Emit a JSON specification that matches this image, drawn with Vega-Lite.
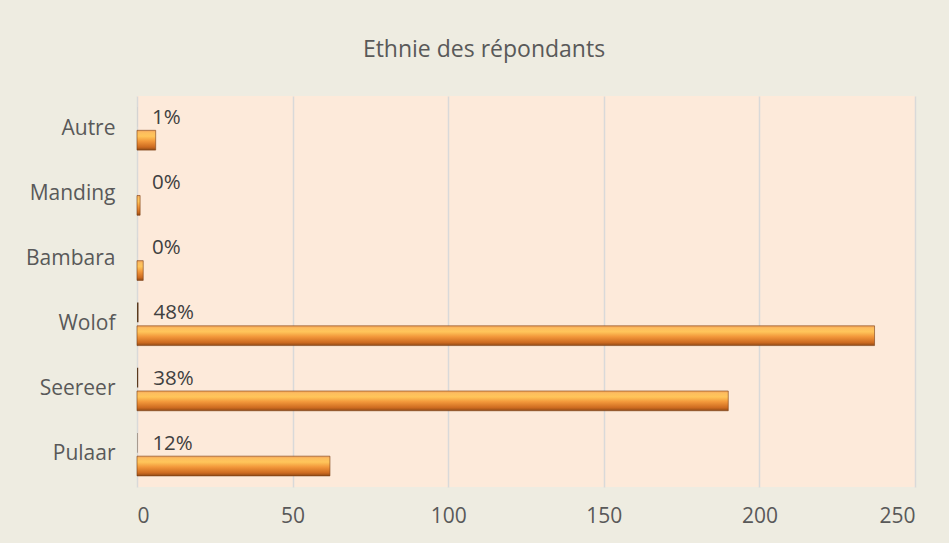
{
  "$schema": "https://vega.github.io/schema/vega-lite/v6.json",
  "width": 778,
  "height": 391,
  "autosize": {"type": "none"},
  "padding": {"left": 137, "top": 96, "right": 34, "bottom": 56},
  "background": "#EEECE1",
  "title": {
    "text": "Ethnie des répondants",
    "fontSize": 23,
    "font": "Open Sans",
    "fontWeight": "normal",
    "color": "#595959",
    "offset": 34,
    "dx": -42,
    "anchor": "middle",
    "frame": "group"
  },
  "config": {
    "view": {"fill": "#FDEADA", "stroke": null},
    "font": "Open Sans"
  },
  "data": {
    "values": [
      {"ethnie": "Autre", "serie": "pct", "valeur": 0.012},
      {"ethnie": "Autre", "serie": "nombre", "valeur": 6},
      {"ethnie": "Manding", "serie": "pct", "valeur": 0.002},
      {"ethnie": "Manding", "serie": "nombre", "valeur": 1},
      {"ethnie": "Bambara", "serie": "pct", "valeur": 0.004},
      {"ethnie": "Bambara", "serie": "nombre", "valeur": 2},
      {"ethnie": "Wolof", "serie": "pct", "valeur": 0.476},
      {"ethnie": "Wolof", "serie": "nombre", "valeur": 237},
      {"ethnie": "Seereer", "serie": "pct", "valeur": 0.382},
      {"ethnie": "Seereer", "serie": "nombre", "valeur": 190},
      {"ethnie": "Pulaar", "serie": "pct", "valeur": 0.124},
      {"ethnie": "Pulaar", "serie": "nombre", "valeur": 62}
    ]
  },
  "encoding": {
    "y": {
      "field": "ethnie",
      "type": "nominal",
      "sort": ["Autre", "Manding", "Bambara", "Wolof", "Seereer", "Pulaar"],
      "scale": {"paddingInner": 0.34, "paddingOuter": 0.17},
      "axis": {
        "title": null,
        "domain": false,
        "ticks": false,
        "labelPadding": 22,
        "labelFontSize": 21,
        "labelColor": "#595959",
        "labelFont": "Open Sans"
      }
    },
    "yOffset": {
      "field": "serie",
      "type": "nominal",
      "sort": ["pct", "nombre"],
      "scale": {"paddingInner": 0.15, "paddingOuter": 0}
    },
    "x": {
      "field": "valeur",
      "type": "quantitative",
      "scale": {"domain": [0, 250], "nice": false},
      "axis": {
        "title": null,
        "values": [0, 50, 100, 150, 200, 250],
        "domain": false,
        "ticks": false,
        "grid": true,
        "gridColor": "#D9D9D9",
        "gridWidth": 1.5,
        "labelPadding": 18,
        "labelFontSize": 21,
        "labelColor": "#595959",
        "labelFont": "Open Sans"
      }
    }
  },
  "layer": [
    {
      "transform": [{"filter": "datum.serie == 'nombre'"}],
      "mark": {
        "type": "bar",
        "color": {
          "gradient": "linear",
          "x1": 0, "y1": 0, "x2": 0, "y2": 1,
          "stops": [
            {"offset": 0, "color": "#F3A35A"},
            {"offset": 0.12, "color": "#FDBE5E"},
            {"offset": 0.3, "color": "#FFC55A"},
            {"offset": 0.55, "color": "#F2973A"},
            {"offset": 0.85, "color": "#CC6A20"},
            {"offset": 1, "color": "#8F4A16"}
          ]
        },
        "stroke": "#7A3E12",
        "strokeWidth": 0.6
      }
    },
    {
      "transform": [{"filter": "datum.serie == 'pct'"}],
      "mark": {"type": "bar", "color": "#5A3A1E"}
    },
    {
      "transform": [{"filter": "datum.serie == 'pct'"}],
      "mark": {
        "type": "text",
        "align": "left",
        "baseline": "middle",
        "dx": 15,
        "dy": 1,
        "fontSize": 20.5,
        "font": "Open Sans",
        "color": "#404040"
      },
      "encoding": {
        "text": {"field": "valeur", "type": "quantitative", "format": ".0%"}
      }
    }
  ]
}
